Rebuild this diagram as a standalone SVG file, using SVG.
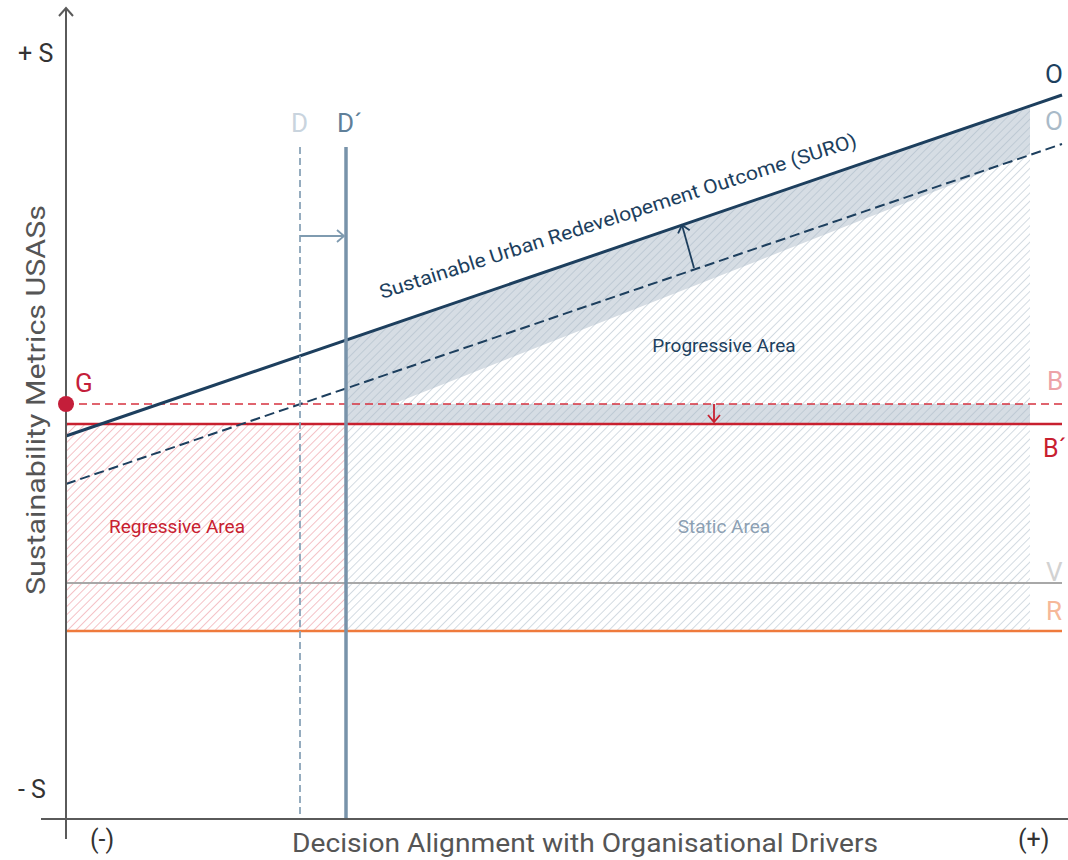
<svg xmlns="http://www.w3.org/2000/svg" width="1068" height="860" viewBox="0 0 1068 860">
<style>
text{font-family:Roboto,"Liberation Sans",sans-serif}
.ax{stroke:#5a5a5a;stroke-width:2;fill:none}
.axt{fill:#333;font-size:25px}
.lbl{font-size:26px}
.area{font-size:19px;text-anchor:middle}
</style>
<defs>
<pattern id="hr" patternUnits="userSpaceOnUse" width="5.8" height="10" patternTransform="rotate(45)">
<line x1="0" y1="0" x2="0" y2="10" stroke="#e9848d" stroke-width="1"/>
</pattern>
<pattern id="hb" patternUnits="userSpaceOnUse" width="5.8" height="10" patternTransform="rotate(45)">
<line x1="0" y1="0" x2="0" y2="10" stroke="#a7b7c5" stroke-width="1"/>
</pattern>
<marker id="chn" markerWidth="12" markerHeight="14" refX="10" refY="7" orient="auto" markerUnits="userSpaceOnUse">
<path d="M3,1 L10,7 L3,13" fill="none" stroke="#1d3f5e" stroke-width="1.8"/>
</marker>
<marker id="chr" markerWidth="12" markerHeight="14" refX="10" refY="7" orient="auto" markerUnits="userSpaceOnUse">
<path d="M3,1 L10,7 L3,13" fill="none" stroke="#c8202f" stroke-width="1.8"/>
</marker>
<marker id="chd" markerWidth="12" markerHeight="14" refX="10" refY="7" orient="auto" markerUnits="userSpaceOnUse">
<path d="M3,1 L10,7 L3,13" fill="none" stroke="#7f9bb0" stroke-width="1.8"/>
</marker>
<marker id="cha" markerWidth="16" markerHeight="16" refX="14" refY="8" orient="auto" markerUnits="userSpaceOnUse">
<path d="M6,1 L14,8 L6,15" fill="none" stroke="#5a5a5a" stroke-width="2"/>
</marker>
</defs>
<rect width="1068" height="860" fill="#fff"/>

<g id="areas">
<rect x="66" y="424" width="280" height="207" fill="url(#hr)"/>
<polygon points="346,340 1030,106 1030,154 393,404 1030,404 1030,424 346,424" fill="#d6dde4"/>
<polygon points="346,340 1030,106 1030,631 346,631" fill="url(#hb)"/>
</g>

<g id="connectors">
<line x1="66" y1="404" x2="1062" y2="404" stroke="#d6323f" stroke-width="1.6" stroke-dasharray="8,5"/>
<line x1="66" y1="424" x2="1062" y2="424" stroke="#c8202f" stroke-width="2.5"/>
<line x1="66" y1="583" x2="1062" y2="583" stroke="#a8a8a8" stroke-width="2"/>
<line x1="66" y1="631" x2="1062" y2="631" stroke="#ef7a3c" stroke-width="2.5"/>
<line x1="66" y1="484" x2="1062" y2="144" stroke="#1d3f5e" stroke-width="2" stroke-dasharray="10,5"/>
<line x1="66" y1="436" x2="1062" y2="95" stroke="#1d3f5e" stroke-width="3"/>
<line x1="300" y1="147" x2="300" y2="819" stroke="#8aa4b8" stroke-width="1.8" stroke-dasharray="7,4"/>
<line x1="346" y1="147" x2="346" y2="819" stroke="#7893aa" stroke-width="3.5"/>
<line x1="300" y1="236" x2="344" y2="236" stroke="#7f9bb0" stroke-width="1.8" marker-end="url(#chd)"/>
<line x1="694" y1="268" x2="682" y2="225" stroke="#1d3f5e" stroke-width="1.8" marker-end="url(#chn)"/>
<line x1="714" y1="404" x2="714" y2="422" stroke="#c8202f" stroke-width="1.8" marker-end="url(#chr)"/>
</g>

<g id="axes">
<line class="ax" x1="66" y1="839" x2="66" y2="8" marker-end="url(#cha)"/>
<line class="ax" x1="41" y1="819" x2="1068" y2="819"/>
</g>

<g id="G"><circle cx="66" cy="404" r="8" fill="#c41e3a"/>
<text x="75" y="392" class="lbl" fill="#c41e3a">G</text></g>

<g id="labels">
<text x="18" y="62" class="axt">+ S</text>
<text x="18" y="798" class="axt">- S</text>
<text x="90" y="848" class="axt">(-)</text>
<text x="1018" y="848" class="axt">(+)</text>
<text x="292" y="852" fill="#555" font-size="25" textLength="586" lengthAdjust="spacingAndGlyphs">Decision Alignment with Organisational Drivers</text>
<text transform="translate(45,400) rotate(-90)" fill="#555" font-size="25" text-anchor="middle" textLength="390" lengthAdjust="spacingAndGlyphs">Sustainability Metrics USASs</text>
<text x="1045" y="83" class="lbl" fill="#1d3f5e">O</text>
<text x="1045" y="130" class="lbl" fill="#a9bac8">O</text>
<text x="1047" y="390" class="lbl" fill="#eda3a8">B</text>
<text x="1043" y="457" font-size="25" fill="#c8202f">B´</text>
<text x="1046" y="581" class="lbl" fill="#d2d2d2">V</text>
<text x="1046" y="620" class="lbl" fill="#f6b899">R</text>
<text x="291" y="132" class="lbl" fill="#c9d4de">D</text>
<text x="337" y="132" class="lbl" fill="#5f7f99">D´</text>
<text x="724" y="352" class="area" fill="#1d3f5e">Progressive Area</text>
<text x="177" y="533" class="area" fill="#c8202f">Regressive Area</text>
<text x="724" y="533" class="area" fill="#8ca0b3">Static Area</text>
<text transform="translate(382,299) rotate(-17.8)" fill="#1d3f5e" font-size="19.5" textLength="500" lengthAdjust="spacingAndGlyphs">Sustainable Urban Redevelopement Outcome (SURO)</text>
</g>
</svg>
